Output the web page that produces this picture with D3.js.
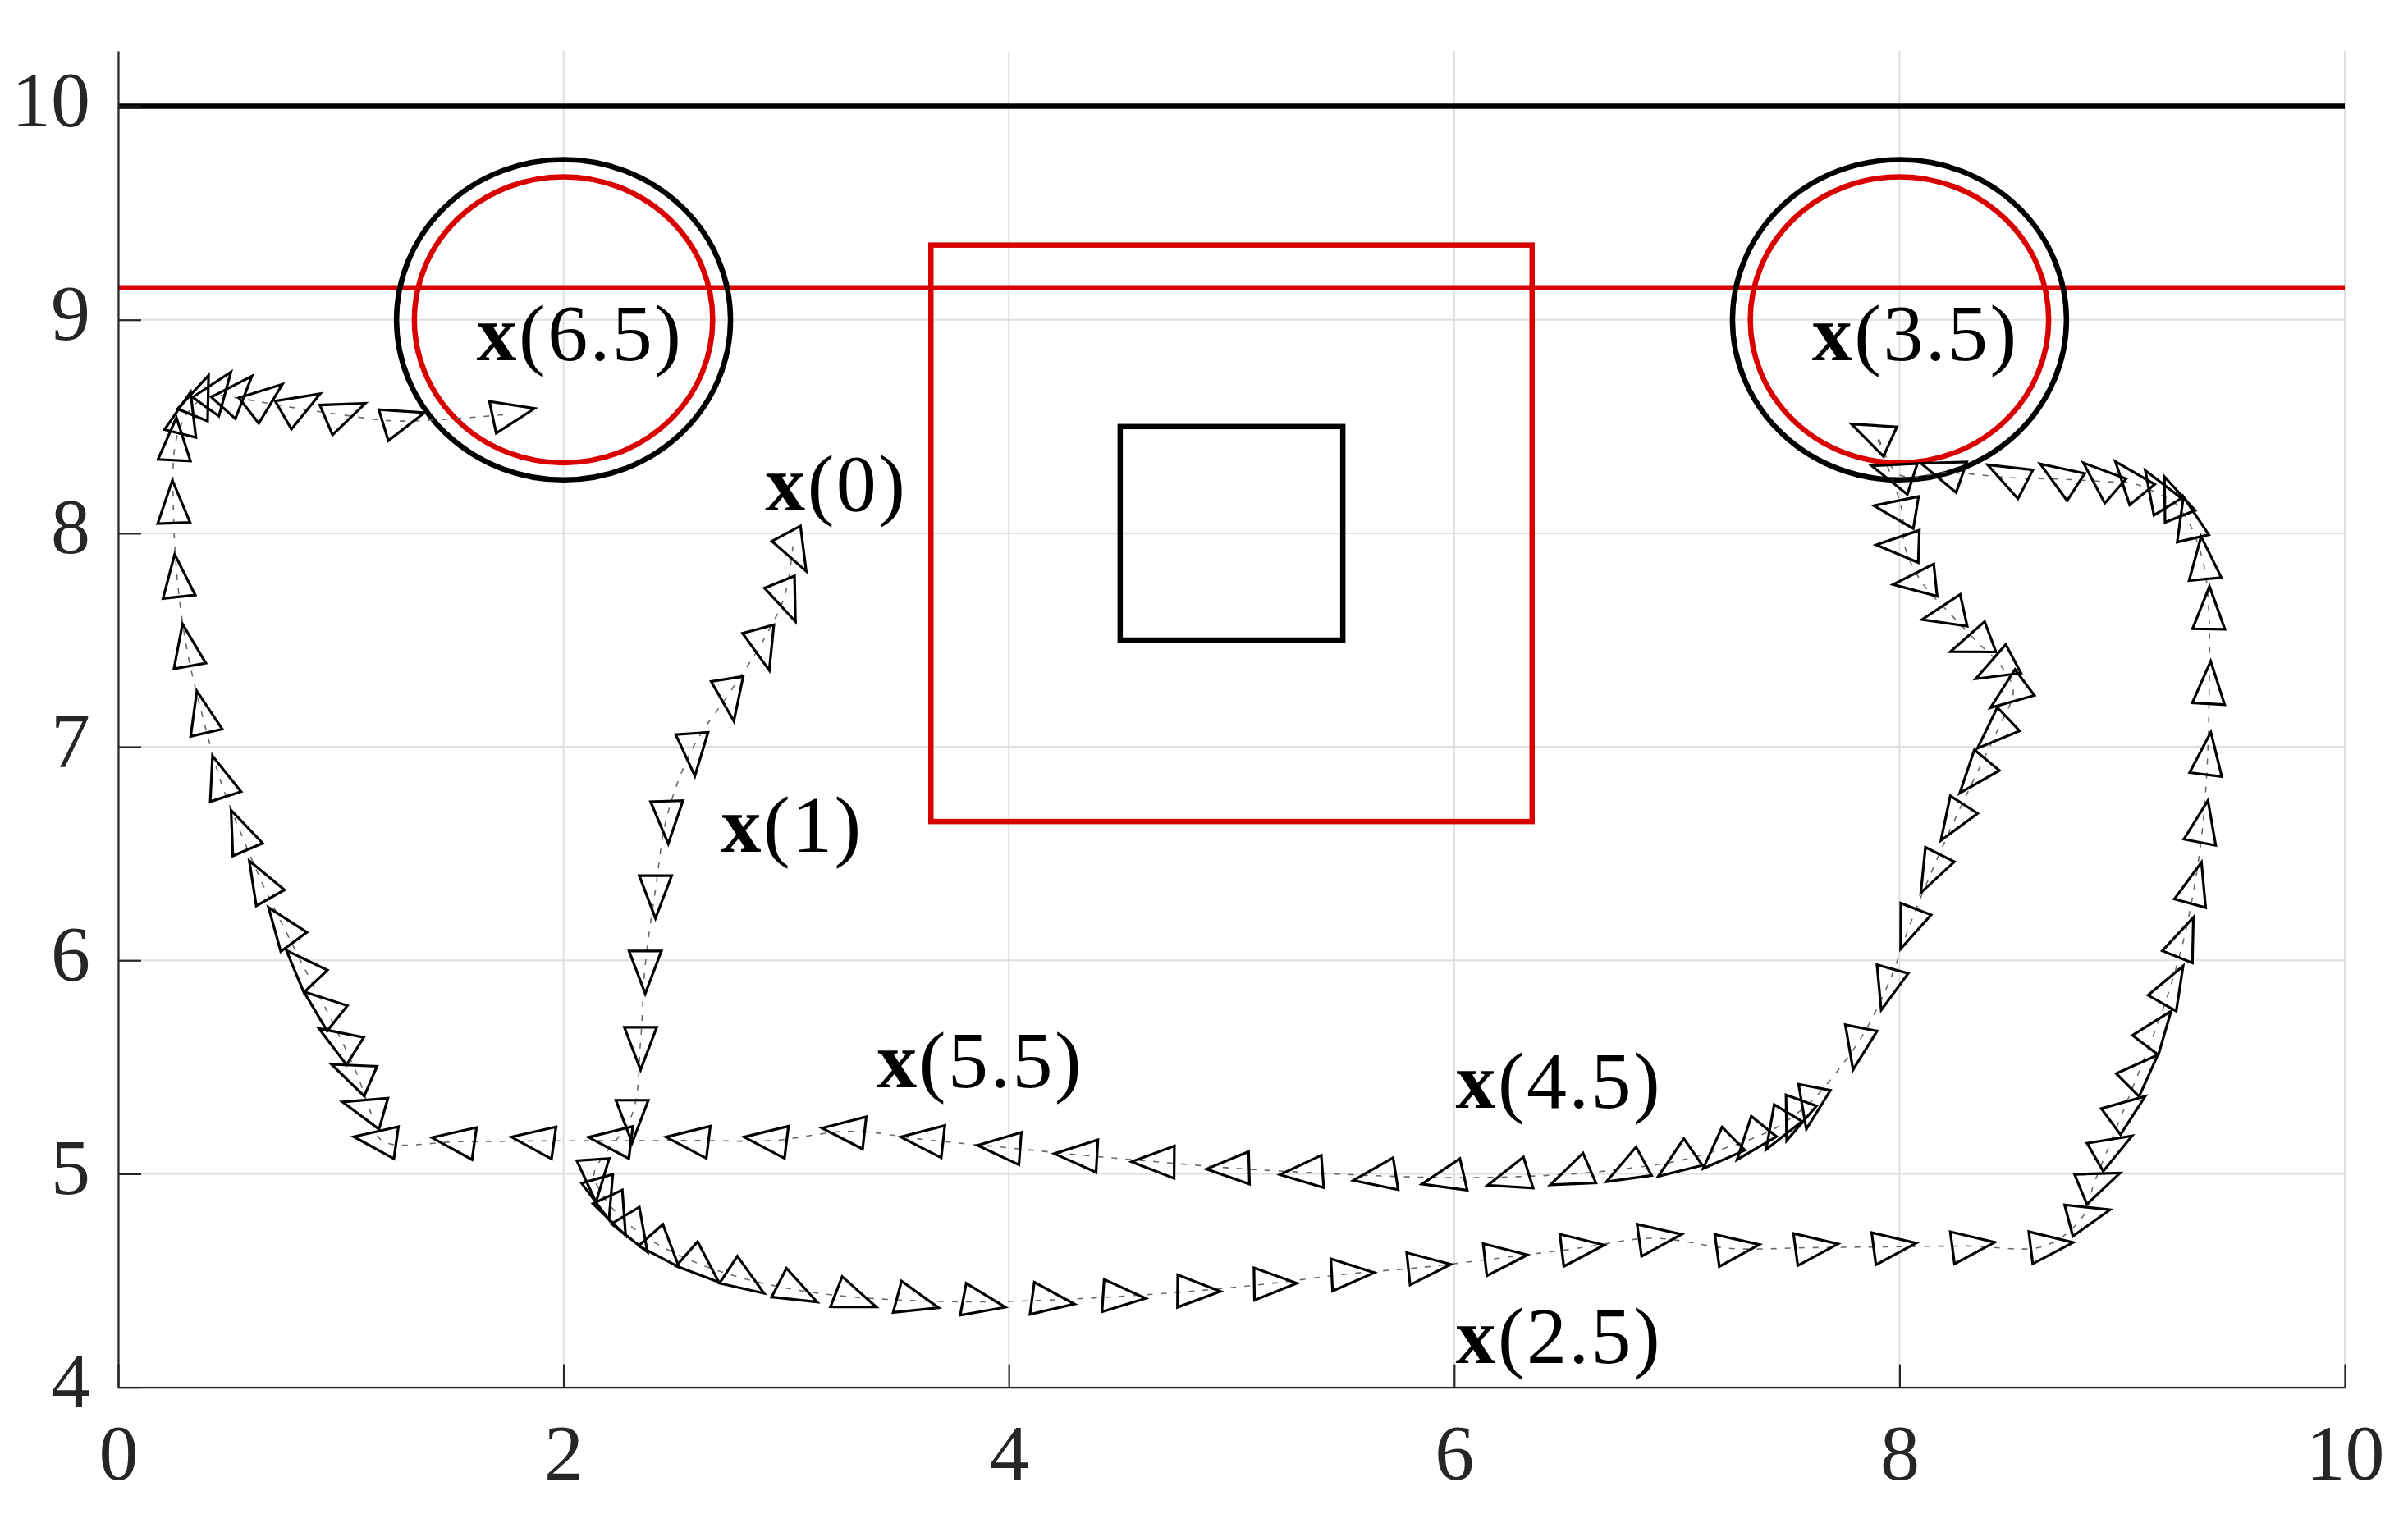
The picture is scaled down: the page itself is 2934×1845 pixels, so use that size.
<!DOCTYPE html>
<html>
<head>
<meta charset="utf-8">
<script src="https://cdn.jsdelivr.net/npm/d3@7"></script>
<style>
  html, body { margin: 0; padding: 0; background: #ffffff; }
  svg { display: block; }
</style>
</head>
<body>
<svg id="chart" width="2934" height="1845"></svg>
<script>
// ---------------- data ----------------
// trajectory samples (position x, position y) and heading angle (degrees, CCW from +x)
const trajX = [3.030, 2.994, 2.891, 2.745, 2.581, 2.466, 2.413, 2.367, 2.346, 2.308,
  2.137, 2.169, 2.225, 2.311, 2.434, 2.602, 2.794, 3.025, 3.285, 3.561,
  3.858, 4.168, 4.487, 4.822, 5.166, 5.514, 5.858, 6.202, 6.547, 6.895,
  7.244, 7.597, 7.948, 8.301, 8.653, 8.822, 8.873, 8.934, 9.001, 9.070,
  9.143, 9.211, 9.272, 9.322, 9.361, 9.383, 9.391, 9.390, 9.367, 9.304,
  9.237, 9.171, 9.050, 8.922, 8.739, 8.509, 8.218, 7.997, 7.900, 8.011,
  8.023, 8.098, 8.226, 8.348, 8.455, 8.511, 8.443, 8.352, 8.255, 8.153,
  8.051, 7.952, 7.816, 7.606, 7.537, 7.467, 7.351, 7.209, 7.021, 6.796,
  6.549, 6.272, 5.980, 5.674, 5.345, 5.015, 4.679, 4.332, 3.987, 3.641,
  3.288, 2.938, 2.587, 2.239, 1.893, 1.536, 1.185, 1.130, 1.075, 1.010,
  0.934, 0.843, 0.751, 0.652, 0.557, 0.463, 0.382, 0.311, 0.267, 0.248,
  0.255, 0.294, 0.358, 0.431, 0.515, 0.637, 0.797, 0.993, 1.253, 1.745];
const trajY = [7.940, 7.710, 7.487, 7.252, 6.996, 6.679, 6.330, 5.977, 5.620, 5.278,
  5.000, 4.913, 4.832, 4.748, 4.663, 4.581, 4.514, 4.460, 4.424, 4.407,
  4.400, 4.408, 4.425, 4.450, 4.485, 4.530, 4.562, 4.605, 4.650, 4.698,
  4.650, 4.654, 4.658, 4.662, 4.662, 4.798, 4.953, 5.111, 5.284, 5.463,
  5.656, 5.857, 6.078, 6.331, 6.618, 6.936, 7.268, 7.618, 7.852, 8.041,
  8.141, 8.181, 8.233, 8.242, 8.253, 8.260, 8.284, 8.275, 8.457, 8.108,
  7.941, 7.774, 7.625, 7.492, 7.381, 7.262, 7.084, 6.886, 6.673, 6.436,
  6.178, 5.895, 5.618, 5.340, 5.281, 5.228, 5.170, 5.118, 5.064, 5.027,
  5.001, 4.986, 4.982, 4.990, 5.006, 5.026, 5.055, 5.087, 5.123, 5.158,
  5.199, 5.156, 5.156, 5.155, 5.154, 5.151, 5.155, 5.300, 5.460, 5.610,
  5.770, 5.950, 6.140, 6.350, 6.580, 6.830, 7.131, 7.444, 7.769, 8.115,
  8.409, 8.532, 8.616, 8.647, 8.637, 8.616, 8.587, 8.557, 8.526, 8.557];
const heading = [-62, -68, -75, -81, -86, -88, -90, -90, -90, -90,
  -86, -74, -65, -59, -48.5, -41.5, -33.5, -27, -21, -15,
  -10.7, -7.7, -3.8, -0.5, 1, 3, 6, 6.5, 7, 8,
  8, 7.6, 7.5, 7.5, 7, 14.7, 22.5, 30, 36.4, 45,
  53, 60.5, 68, 74.5, 79, 83, 87, 89, 95.5, 103,
  111.5, 121.7, 129, 138.7, 147, 152.6, 161, 162, 155.5, 170.7,
  178, 186, 192.5, 200.5, 208, 216.6, 223.3, 230.5, 237.3, 243.5,
  249, 254.5, 259, 259, 250, 239, 231, 224.6, 215, 208.7,
  203.4, 197.4, 193, 189, 184.3, 181.6, 179.5, 176.8, 175.7, 173.6,
  173.5, 173, 173, 173, 172, 172, 172, 164, 156.6, 148,
  141.4, 133.4, 126.3, 119.6, 113, 108, 103, 100, 96, 92,
  87, 76, 68, 54, 48, 38, 30, 23, 17, 12];

// labels x(t)
const labelTimes = ["0", "1", "2.5", "3.5", "4.5", "5.5", "6.5"];
const labelX = [2.905, 2.707, 6.006, 7.607, 6.006, 3.407, 1.609];
const labelY = [8.108, 6.507, 4.115, 8.810, 5.310, 5.406, 8.812];

// obstacles / constraints
const hLinesBlack = [10];
const hLinesRed = [9.15];
const circleCx = [2, 8];
const circleCy = [9, 9];
const circleRBlack = [0.75, 0.75];
const circleRRed = [0.67, 0.67];
const squareBlack = [4.5, 7.5, 5.5, 8.5];   // x0, y0, x1, y1
const squareRed = [3.65, 6.65, 6.35, 9.35];

// axes
const xDomain = [0, 10];
const yDomain = [4, 10.26];
const xTicks = [0, 2, 4, 6, 8, 10];
const yTicks = [4, 5, 6, 7, 8, 9, 10];

// ---------------- drawing ----------------
const svg = d3.select("#chart");
const plotL = 144, plotR = 2857, plotB = 1690.6, plotT = 61.9;
const x = d3.scaleLinear().domain(xDomain).range([plotL, plotR]);
const y = d3.scaleLinear().domain(yDomain).range([plotB, plotT]);

const RED = "#d90000";
const AXIS = "#262626";
const FONT = "'Liberation Serif', 'Times New Roman', serif";

// grid
const grid = svg.append("g");
grid.selectAll("line.gx").data(xTicks).enter().append("line")
  .attr("x1", d => x(d)).attr("x2", d => x(d))
  .attr("y1", plotB).attr("y2", plotT)
  .attr("stroke", "#dfdfdf").attr("stroke-width", 2);
grid.selectAll("line.gy").data(yTicks).enter().append("line")
  .attr("x1", plotL).attr("x2", plotR)
  .attr("y1", d => y(d)).attr("y2", d => y(d))
  .attr("stroke", "#dfdfdf").attr("stroke-width", 2);

// constraint shapes
const shapes = svg.append("g").attr("fill", "none").attr("stroke-width", 6.5);
shapes.selectAll("line.hb").data(hLinesBlack).enter().append("line")
  .attr("x1", x(xDomain[0])).attr("x2", x(xDomain[1]))
  .attr("y1", d => y(d)).attr("y2", d => y(d)).attr("stroke", "#000");
shapes.selectAll("line.hr").data(hLinesRed).enter().append("line")
  .attr("x1", x(xDomain[0])).attr("x2", x(xDomain[1]))
  .attr("y1", d => y(d)).attr("y2", d => y(d)).attr("stroke", RED);

const sqs = [{b: squareRed, c: RED}, {b: squareBlack, c: "#000"}];
shapes.selectAll("rect").data(sqs).enter().append("rect")
  .attr("x", d => x(d.b[0])).attr("y", d => y(d.b[3]))
  .attr("width", d => x(d.b[2]) - x(d.b[0]))
  .attr("height", d => y(d.b[1]) - y(d.b[3]))
  .attr("stroke", d => d.c);

const circ = [];
circleCx.forEach((cx, i) => {
  circ.push({cx: cx, cy: circleCy[i], r: circleRBlack[i], c: "#000"});
  circ.push({cx: cx, cy: circleCy[i], r: circleRRed[i], c: RED});
});
shapes.selectAll("ellipse").data(circ).enter().append("ellipse")
  .attr("cx", d => x(d.cx)).attr("cy", d => y(d.cy))
  .attr("rx", d => x(d.r) - x(0)).attr("ry", d => y(0) - y(d.r))
  .attr("stroke", d => d.c);

// trajectory dotted line
const pts = trajX.map((v, i) => [v, trajY[i], heading[i]]);
const line = d3.line().x(d => x(d[0])).y(d => y(d[1])).curve(d3.curveCatmullRom.alpha(0.5));
svg.append("path").datum(pts)
  .attr("d", line)
  .attr("fill", "none")
  .attr("stroke", "#6a6a6a")
  .attr("stroke-width", 1.6)
  .attr("stroke-dasharray", "7,10");

// heading triangles
const triL = 52, triW = 39.5;
const triPath = `M${(2 / 3) * triL},0 L${-triL / 3},${triW / 2} L${-triL / 3},${-triW / 2} Z`;
svg.append("g").selectAll("path").data(pts).enter().append("path")
  .attr("d", triPath)
  .attr("transform", d => `translate(${x(d[0])},${y(d[1])}) rotate(${-d[2]})`)
  .attr("fill", "none")
  .attr("stroke", "#000")
  .attr("stroke-width", 3.2)
  .attr("stroke-linejoin", "miter");

// labels
const lab = svg.append("g").attr("font-family", FONT).attr("font-size", 98)
  .attr("letter-spacing", 2.5).attr("fill", "#000");
labelTimes.forEach((t, i) => {
  const tx = lab.append("text").attr("x", x(labelX[i])).attr("y", y(labelY[i]));
  tx.append("tspan").attr("font-weight", "bold").text("x");
  tx.append("tspan").text("(" + t + ")");
});

// axes
const xAxis = d3.axisBottom(x).tickValues(xTicks).tickFormat(d3.format("d"))
  .tickSizeInner(-28).tickSizeOuter(0).tickPadding(44);
const yAxis = d3.axisLeft(y).tickValues(yTicks).tickFormat(d3.format("d"))
  .tickSizeInner(-28).tickSizeOuter(0).tickPadding(34);

const gx = svg.append("g").attr("transform", `translate(0,${plotB})`).call(xAxis);
const gy = svg.append("g").attr("transform", `translate(${plotL},0)`).call(yAxis);
[gx, gy].forEach(g => {
  g.select(".domain").attr("stroke", AXIS).attr("stroke-width", 2.2);
  g.selectAll(".tick line").attr("stroke", AXIS).attr("stroke-width", 2.2);
  g.selectAll(".tick text").attr("fill", AXIS).attr("font-family", FONT).attr("font-size", 96);
});
gy.selectAll(".tick text").attr("dy", "0.25em");
gx.selectAll(".tick text").attr("dy", "0.71em");
</script>
</body>
</html>
